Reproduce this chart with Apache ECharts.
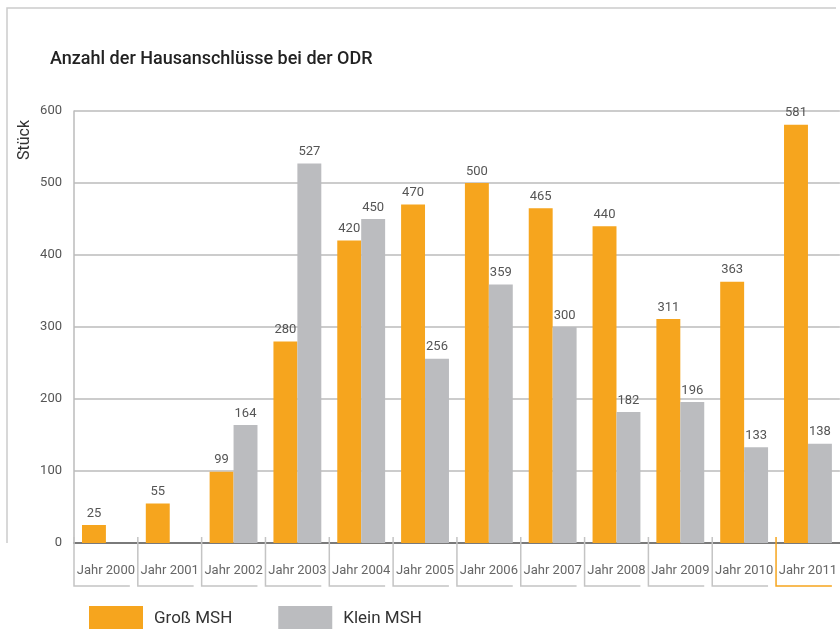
<!DOCTYPE html>
<html>
<head>
<meta charset="utf-8">
<script src="https://cdn.jsdelivr.net/npm/echarts@6/dist/echarts.min.js"></script>
<style>
  html, body { margin: 0; padding: 0; background: #fff; }
  #chart { width: 840px; height: 629px; }
</style>
</head>
<body>
<div id="chart"></div>
<script>
var years = ['Jahr 2000', 'Jahr 2001', 'Jahr 2002', 'Jahr 2003', 'Jahr 2004', 'Jahr 2005',
             'Jahr 2006', 'Jahr 2007', 'Jahr 2008', 'Jahr 2009', 'Jahr 2010', 'Jahr 2011'];
var grossMSH = [25, 55, 99, 280, 420, 470, 500, 465, 440, 311, 363, 581];
var kleinMSH = [0, 0, 164, 527, 450, 256, 359, 300, 182, 196, 133, 138];

var orange = '#F6A51E';
var grey = '#BBBCBF';
var font = 'Roboto';

var myChart = echarts.init(document.getElementById('chart'));

var option = {
  animation: false,
  textStyle: { fontFamily: font },
  title: {
    text: 'Anzahl der Hausanschlüsse bei der ODR',
    left: 45,
    top: 45,
    textStyle: { fontFamily: font, fontSize: 18, fontWeight: 500, color: '#222' }
  },
  legend: {
    left: 89,
    top: 606,
    padding: 0,
    itemWidth: 54,
    itemHeight: 26,
    itemGap: 46,
    icon: 'rect',
    textStyle: { fontFamily: font, fontSize: 17, color: '#333', padding: [0, 0, 0, 6] },
    data: ['Groß MSH', 'Klein MSH']
  },
  grid: { left: 74, top: 111, bottom: 86, right: -2 },
  xAxis: {
    type: 'category',
    data: years,
    axisLine: { lineStyle: { color: '#7a7a7a', width: 2 } },
    axisTick: { show: false },
    axisLabel: { interval: 0, margin: 21, fontSize: 13, color: '#666', fontFamily: font }
  },
  yAxis: {
    type: 'value',
    min: 0,
    max: 600,
    interval: 100,
    axisLine: { show: true, lineStyle: { color: '#bbb', width: 1.5 } },
    axisTick: { show: false },
    axisLabel: { margin: 12, fontSize: 13, color: '#555', fontFamily: font },
    splitLine: { lineStyle: { color: '#bbb', width: 1.5 } }
  },
  series: [
    {
      name: 'Groß MSH',
      type: 'bar',
      data: grossMSH,
      barGap: '0%',
      barCategoryGap: '25%',
      itemStyle: { color: orange },
      label: { show: true, position: 'top', distance: 5, fontSize: 13, color: '#555', fontFamily: font }
    },
    {
      name: 'Klein MSH',
      type: 'bar',
      data: kleinMSH,
      itemStyle: { color: grey },
      label: {
        show: true, position: 'top', distance: 5, fontSize: 13, color: '#555', fontFamily: font,
        formatter: function (p) { return p.value ? p.value : ''; }
      }
    }
  ]
};
myChart.setOption(option);

// frame, y-axis name and the bracket under each year label
var y0 = myChart.convertToPixel({ yAxisIndex: 0 }, 0);
var step = myChart.convertToPixel({ xAxisIndex: 0 }, years[1]) - myChart.convertToPixel({ xAxisIndex: 0 }, years[0]);
var graphics = [
  {
    type: 'polyline',
    shape: { points: [[836, 8], [7, 8], [7, y0]] },
    style: { stroke: '#ccc', lineWidth: 1.5, fill: null }
  },
  {
    type: 'text',
    x: 17,
    y: 120,
    rotation: Math.PI / 2,
    style: { text: 'Stück', fontFamily: font, fontSize: 16, fill: '#333', align: 'right', verticalAlign: 'top' }
  }
];
years.forEach(function (y, i) {
  var x = myChart.convertToPixel({ xAxisIndex: 0 }, y) - step / 2;
  graphics.push({
    type: 'polyline',
    z: 1,
    shape: { points: [[x, y0 - 6], [x, y0 + 43], [x + step - 8, y0 + 43]] },
    style: { stroke: i === years.length - 1 ? orange : '#c4c4c4', lineWidth: 1.5, fill: null }
  });
});
myChart.setOption({ graphic: graphics });
</script>
</body>
</html>
